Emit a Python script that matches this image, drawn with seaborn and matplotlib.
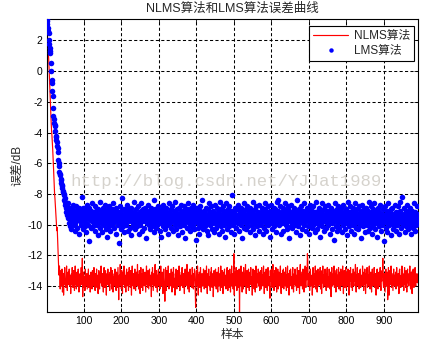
import numpy as np
import pandas as pd
import matplotlib
matplotlib.use("Agg")
import matplotlib.pyplot as plt
import seaborn as sns

# Error curves (dB) per sample for the two adaptive filters
nlms_err_db = [
    3.4, 3.0, 2.4, 2.0, 1.5, 1.0, 0.4, -0.2, -0.8, -1.5, -2.2, -2.9, -3.4, -3.9, -4.2, -4.6, -5.1, -5.6, -6.2, -6.8, -7.4, -8.0, -8.3, -8.7, -9.1, -9.6, -9.9, -10.4, -10.2, -10.9,
    -11.6, -12.3, -12.9, -13.3, -12.7, -13.6, -14.2, -13.4, -13.0, -14.0, -13.5, -12.9, -14.4, -13.7, -13.2, -14.6, -13.8, -13.3, -12.8, -13.9, -13.6, -14.1, -13.4, -12.7, -13.8, -14.3, -13.5, -13.1, -13.9, -13.6,
    -12.9, -14.0, -13.7, -13.3, -14.5, -13.6, -13.2, -13.9, -12.8, -13.7, -14.1, -13.4, -13.0, -13.8, -14.3, -13.5, -12.7, -13.9, -13.6, -14.2, -13.3, -13.1, -14.0, -13.7, -12.9, -13.6, -14.4, -13.4, -13.8, -13.2,
    -14.0, -13.5, -12.8, -13.9, -13.3, -12.2, -14.7, -13.6, -13.1, -14.1, -13.8, -13.4, -14.3, -12.9, -13.7, -14.0, -13.5, -13.2, -14.2, -13.8, -13.4, -12.9, -14.1, -13.6, -13.9, -13.3, -14.4, -13.7, -13.1, -13.8,
    -13.5, -14.2, -13.0, -13.7, -14.0, -13.4, -12.8, -13.9, -13.6, -14.3, -13.2, -13.8, -13.5, -12.9, -14.1, -13.7, -13.3, -14.5, -13.6, -13.0, -13.9, -14.2, -13.4, -13.1, -13.8, -12.7, -13.6, -14.0, -13.5, -13.2,
    -13.9, -14.4, -13.3, -12.8, -13.7, -14.1, -13.5, -13.0, -13.8, -14.6, -13.4, -13.2, -13.9, -12.9, -13.6, -14.0, -13.3, -13.7, -14.3, -13.1, -13.8, -12.8, -13.5, -14.2, -13.6, -13.0, -13.9, -14.4, -13.4, -13.7,
    -13.2, -14.0, -12.9, -13.8, -13.5, -14.3, -13.1, -13.7, -14.1, -13.4, -12.8, -13.9, -14.9, -13.6, -13.3, -14.0, -12.6, -13.8, -13.5, -14.2, -13.0, -13.7, -14.5, -13.4, -13.1, -13.9, -12.7, -13.6, -14.1, -13.3,
    -13.8, -14.4, -13.2, -12.9, -13.7, -14.0, -13.5, -13.1, -14.3, -13.6, -12.8, -13.9, -13.4, -14.1, -13.0, -13.7, -14.6, -13.3, -12.7, -13.8, -14.0, -13.5, -13.2, -14.2, -13.6, -12.9, -13.9, -14.3, -13.4, -13.1,
    -13.7, -14.0, -12.6, -13.8, -13.3, -14.2, -13.5, -13.0, -13.9, -14.5, -13.4, -12.8, -13.6, -14.1, -13.2, -13.7, -14.3, -12.9, -13.5, -13.9, -14.0, -13.3, -13.1, -13.8, -14.4, -13.6, -12.7, -13.9, -13.4, -14.1,
    -13.0, -13.7, -14.2, -13.5, -12.9, -13.8, -14.0, -13.3, -13.6, -14.7, -13.1, -13.9, -12.8, -13.5, -14.3, -13.7, -13.2, -14.0, -13.4, -12.6, -13.8, -14.1, -13.6, -13.0, -13.9, -14.4, -13.3, -13.7, -12.9, -14.0,
    -13.5, -13.2, -14.2, -13.8, -12.7, -13.6, -14.0, -13.4, -13.1, -13.9, -14.5, -13.5, -12.9, -13.7, -14.1, -15.0, -13.8, -12.8, -13.6, -14.3, -13.0, -13.9, -13.4, -14.0, -12.7, -13.7, -14.2, -13.5, -13.2, -13.8,
    -14.0, -13.3, -12.9, -13.7, -14.4, -13.6, -13.1, -13.9, -12.8, -14.1, -13.5, -13.8, -14.6, -13.2, -13.6, -12.9, -13.9, -14.2, -13.4, -13.0, -13.7, -14.0, -13.5, -12.7, -13.8, -14.3, -13.3, -13.6, -14.0, -13.1,
    -13.7, -12.8, -13.9, -14.1, -13.4, -13.2, -13.8, -14.5, -13.5, -12.9, -13.6, -14.0, -13.3, -13.9, -12.6, -13.7, -14.2, -13.5, -13.1, -13.8, -14.4, -13.4, -12.9, -13.6, -14.0, -13.3, -13.7, -14.1, -12.8, -13.5,
    -13.9, -14.2, -13.2, -13.6, -12.9, -13.8, -14.3, -15.4, -13.4, -13.0, -13.7, -14.0, -12.7, -13.5, -14.6, -13.3, -13.9, -13.1, -14.1, -13.6, -12.8, -13.8, -14.4, -13.5, -13.2, -13.9, -14.0, -13.4, -12.9, -13.7,
    -14.2, -13.5, -13.0, -13.8, -14.1, -13.3, -12.7, -13.7, -14.5, -13.6, -13.2, -13.9, -12.9, -14.0, -13.4, -13.7, -14.3, -13.1, -13.6, -12.8, -13.9, -14.1, -13.5, -13.2, -14.7, -13.8, -13.0, -13.6, -14.0, -13.4,
    -12.9, -13.8, -14.2, -13.5, -13.1, -13.9, -14.4, -13.3, -12.8, -13.7, -14.0, -13.6, -13.2, -14.3, -12.7, -13.8, -13.5, -14.1, -13.0, -13.9, -14.5, -13.4, -13.1, -13.7, -12.9, -14.0, -13.6, -13.3, -14.2, -13.8,
    -13.2, -12.8, -13.9, -14.3, -13.5, -13.0, -13.8, -14.1, -12.9, -13.6, -14.4, -13.3, -13.7, -12.7, -14.0, -13.5, -13.2, -14.2, -13.6, -11.9, -14.6, -13.4, -13.8, -13.1, -14.0, -12.8, -13.7, -14.3, -13.5, -13.0,
    -13.9, -14.1, -13.3, -12.9, -15.7, -13.6, -13.2, -14.0, -12.7, -13.8, -13.5, -14.4, -13.1, -13.7, -14.2, -12.8, -13.4, -13.9, -14.0, -13.3, -12.6, -13.8, -14.5, -13.5, -13.0, -13.7, -14.1, -13.2, -12.9, -13.6,
    -14.3, -13.5, -13.1, -13.9, -12.8, -13.7, -14.0, -13.4, -14.6, -13.2, -12.9, -13.8, -13.6, -14.2, -13.0, -13.5, -14.4, -13.3, -12.7, -13.9, -14.1, -13.6, -13.2, -13.8, -12.9, -14.0, -13.5, -13.1, -14.3, -13.7,
    -13.0, -13.8, -14.2, -12.8, -13.6, -13.3, -14.0, -13.9, -12.7, -13.5, -14.5, -13.4, -13.1, -13.7, -14.1, -12.9, -13.8, -13.6, -14.3, -13.2, -12.8, -13.9, -14.0, -13.4, -13.6, -14.8, -13.0, -13.7, -13.3, -12.9,
    -13.8, -14.1, -13.5, -12.6, -13.9, -13.2, -14.3, -13.6, -13.0, -13.8, -14.0, -12.8, -13.5, -14.4, -13.3, -13.7, -12.9, -14.2, -13.6, -13.1, -13.9, -14.0, -13.4, -12.7, -13.8, -14.5, -13.2, -13.6, -14.1, -13.0,
    -13.7, -12.9, -14.2, -13.5, -13.1, -13.9, -14.0, -12.8, -13.6, -14.3, -13.3, -13.8, -12.7, -14.1, -13.5, -13.2, -14.6, -13.7, -13.0, -13.9, -12.9, -14.0, -13.4, -13.6, -14.2, -13.1, -12.8, -13.8, -14.4, -13.5,
    -13.2, -13.9, -12.9, -14.0, -13.6, -13.3, -14.3, -13.7, -12.8, -13.5, -14.1, -13.4, -13.0, -13.8, -14.5, -13.2, -12.6, -13.9, -14.0, -13.6, -13.1, -13.7, -14.2, -12.9, -13.5, -13.8, -14.4, -13.3, -13.0, -12.7,
    -13.9, -14.1, -13.4, -12.8, -13.6, -11.9, -12.4, -14.0, -13.5, -13.2, -13.8, -14.3, -13.1, -12.9, -13.7, -14.0, -13.5, -13.3, -14.6, -13.8, -12.8, -13.6, -14.1, -13.2, -13.9, -13.5, -12.7, -14.2, -13.6, -13.0,
    -13.8, -14.4, -13.3, -12.9, -13.7, -14.0, -13.5, -13.1, -13.9, -12.8, -14.2, -13.6, -13.4, -14.5, -13.0, -13.8, -12.7, -13.5, -14.1, -13.3, -13.9, -14.0, -12.9, -13.6, -13.2, -14.3, -13.7, -13.0, -12.8, -13.9,
    -14.1, -13.4, -13.7, -12.9, -13.5, -14.2, -13.1, -13.8, -14.7, -13.3, -12.8, -13.6, -14.0, -13.5, -13.2, -13.9, -12.7, -14.1, -13.6, -13.0, -13.8, -14.4, -13.4, -12.9, -13.7, -14.0, -13.3, -13.5, -12.8, -14.2,
    -13.6, -13.1, -13.9, -14.3, -12.9, -13.7, -13.4, -14.0, -13.2, -12.7, -13.8, -14.5, -13.5, -13.0, -13.9, -14.1, -13.3, -12.8, -13.6, -14.2, -13.7, -13.1, -14.0, -12.9, -13.5, -13.8, -14.6, -13.4, -13.0, -13.7,
    -12.8, -13.9, -14.1, -13.5, -13.2, -14.3, -13.6, -12.9, -13.8, -14.0, -13.4, -13.1, -13.7, -12.6, -13.9, -14.4, -13.3, -13.6, -12.8, -14.0, -13.5, -13.2, -13.9, -14.2, -13.0, -13.7, -12.9, -14.1, -13.5, -13.3,
    -13.8, -14.0, -12.7, -13.6, -13.4, -14.3, -13.1, -13.9, -12.9, -13.5, -14.5, -13.7, -13.2, -13.8, -12.8, -14.1, -13.6, -13.3, -14.0, -13.0, -12.7, -13.9, -14.2, -13.5, -13.1, -13.8, -14.4, -13.4, -12.9, -13.7,
    -14.0, -13.3, -13.6, -12.8, -14.1, -13.5, -13.9, -13.2, -14.6, -13.7, -13.0, -12.9, -13.8, -14.2, -13.4, -13.6, -13.1, -14.0, -13.5, -12.8, -13.9, -14.3, -13.3, -13.7, -13.0, -13.4, -12.2, -13.8, -14.1, -13.5,
    -13.2, -13.9, -14.4, -13.6, -12.9, -13.7, -14.0, -13.3, -13.1, -14.9, -14.2, -12.8, -13.5, -14.6, -13.4, -13.0, -13.9, -13.6, -12.7, -14.1, -13.7, -13.2, -13.8, -14.3, -13.5, -12.9, -13.6, -14.0, -13.3, -13.9,
    -13.1, -14.2, -13.6, -12.8, -13.8, -13.4, -14.0, -13.2, -13.7, -14.5, -13.0, -12.9, -13.9, -13.5, -14.1, -13.3, -13.7, -12.7, -14.0, -13.6, -13.2, -13.8, -14.3, -13.4, -12.8, -13.9, -13.5, -14.1, -13.0, -13.7,
    -14.4, -13.3, -12.9, -13.8, -13.5, -14.0, -13.2, -13.6, -12.7, -13.9, -14.2, -13.4, -13.1, -13.7, -14.5, -13.0, -13.8, -12.9, -13.6, -14.1, -13.3, -13.5, -12.8, -13.9, -14.0, -13.4, -13.7, -13.2, -13.8, -13.5,
]

lms_err_db = [
    3.4, 3.3, 3.1, 2.8, 2.6, 2.5, 2.0, 1.8, 1.5, 1.3, 1.2, 0.5, 0.0, -0.6, -0.8, -1.3, -1.6, -2.4, -2.9, -3.1, -3.4, -3.6, -3.5, -3.9, -4.2, -4.3, -4.5, -4.6, -4.9, -5.0,
    -5.3, -5.8, -6.0, -6.2, -6.6, -6.8, -6.7, -7.0, -7.1, -7.3, -7.4, -7.6, -7.5, -7.9, -7.8, -8.1, -8.0, -8.4, -8.3, -8.7, -8.5, -8.9, -9.2, -8.8, -9.4, -9.1, -9.6, -8.6, -9.3, -9.9,
    -9.2, -10.1, -9.5, -8.9, -9.7, -9.4, -10.3, -9.0, -9.6, -9.8, -8.7, -9.3, -10.0, -9.5, -9.1, -9.9, -10.4, -9.2, -8.8, -9.6, -9.4, -10.2, -9.7, -9.0, -9.5, -10.6, -9.3, -8.9, -9.8, -9.6,
    -9.1, -10.0, -9.4, -8.2, -9.7, -9.5, -10.3, -9.2, -8.9, -9.8, -9.6, -10.1, -9.3, -9.0, -9.9, -10.5, -9.4, -8.7, -9.6, -9.2, -10.0, -9.5, -11.1, -9.3, -8.9, -9.7, -9.4, -10.2, -9.1, -9.6,
    -9.8, -9.3, -8.6, -9.5, -10.1, -9.7, -9.2, -9.9, -10.4, -9.4, -8.8, -9.6, -9.1, -10.0, -9.5, -9.3, -10.7, -9.8, -9.0, -9.4, -9.7, -8.5, -9.6, -10.2, -9.3, -9.9, -9.1, -10.5, -9.5, -8.9,
    -9.7, -9.4, -10.0, -9.2, -9.8, -8.7, -9.5, -10.3, -9.6, -9.1, -9.9, -10.8, -9.4, -9.0, -9.7, -9.3, -10.1, -8.8, -9.6, -9.5, -10.4, -9.2, -9.8, -9.0, -9.6, -10.0, -9.3, -8.6, -9.9, -9.5,
    -10.2, -9.4, -9.1, -9.8, -10.6, -9.5, -8.9, -9.7, -9.3, -10.0, -9.6, -9.2, -11.2, -9.8, -9.4, -8.8, -9.9, -10.3, -9.5, -9.1, -9.7, -8.3, -9.6, -10.1, -9.4, -9.8, -9.0, -10.5, -9.3, -9.6,
    -9.9, -9.2, -10.0, -8.7, -9.5, -9.7, -10.4, -9.3, -9.0, -9.8, -9.6, -10.2, -9.1, -9.4, -10.7, -9.5, -8.9, -9.8, -9.6, -9.3, -10.0, -9.7, -9.2, -8.5, -9.9, -9.4, -10.3, -9.6, -9.0, -9.8,
    -9.5, -10.1, -9.3, -8.8, -9.7, -9.4, -10.6, -9.6, -9.2, -9.9, -10.0, -9.1, -8.6, -9.8, -9.5, -10.4, -9.3, -9.7, -9.0, -9.6, -10.2, -9.4, -8.9, -9.8, -9.5, -10.9, -9.2, -9.6, -9.9, -9.3,
    -8.7, -9.7, -10.0, -9.4, -9.1, -9.8, -10.3, -9.5, -9.6, -8.9, -9.3, -10.1, -9.7, -9.2, -9.9, -10.5, -9.4, -8.4, -9.6, -9.8, -9.0, -10.2, -9.5, -9.3, -9.7, -10.0, -9.1, -9.6, -8.8, -9.9,
    -9.4, -10.4, -9.6, -9.2, -9.8, -9.5, -10.8, -9.0, -9.7, -9.3, -10.1, -8.7, -9.6, -9.9, -9.4, -10.3, -9.1, -9.8, -9.5, -8.9, -9.7, -10.0, -9.3, -9.6, -10.6, -9.2, -9.8, -8.6, -9.5, -9.9,
    -9.3, -10.2, -9.0, -9.7, -9.4, -8.8, -9.6, -10.4, -9.5, -9.1, -9.8, -10.0, -9.2, -8.5, -9.7, -9.4, -10.3, -9.6, -9.0, -9.9, -9.3, -10.7, -9.5, -8.9, -9.8, -9.6, -10.1, -9.2, -9.4, -8.7,
    -9.9, -9.5, -10.5, -9.3, -9.1, -9.7, -10.0, -8.8, -9.6, -9.4, -10.9, -9.2, -9.8, -9.0, -9.5, -10.2, -9.7, -8.6, -9.3, -9.9, -9.6, -10.4, -9.1, -9.5, -8.9, -9.8, -10.1, -9.4, -9.7, -9.2,
    -10.0, -8.7, -9.6, -9.3, -10.3, -9.8, -9.0, -9.5, -11.0, -9.4, -9.7, -8.9, -9.9, -10.2, -9.2, -9.6, -9.4, -10.6, -9.1, -8.8, -9.8, -9.5, -10.0, -9.3, -9.7, -8.4, -9.6, -10.3, -9.4, -9.9,
    -9.1, -9.7, -10.1, -9.5, -8.9, -9.3, -10.4, -9.8, -9.6, -9.0, -9.9, -10.7, -9.4, -8.6, -9.7, -9.2, -10.0, -9.5, -9.8, -8.8, -9.6, -10.3, -9.3, -9.1, -9.9, -10.5, -9.4, -9.7, -8.7, -9.5,
    -10.2, -9.6, -9.3, -9.8, -8.9, -10.0, -9.5, -9.2, -10.6, -9.7, -9.4, -8.5, -9.9, -9.6, -10.1, -9.0, -9.8, -9.3, -10.4, -9.5, -8.8, -9.7, -9.1, -10.0, -9.6, -9.4, -10.8, -9.2, -9.8, -8.6,
    -9.5, -10.3, -9.7, -9.0, -9.9, -9.4, -10.1, -8.8, -9.6, -9.3, -10.5, -9.8, -9.1, -9.5, -8.1, -9.7, -10.0, -9.4, -9.2, -9.9, -10.6, -9.6, -8.9, -9.3, -9.8, -10.2, -9.5, -9.0, -9.7, -9.4,
    -8.7, -9.9, -10.4, -9.5, -9.2, -9.8, -9.6, -10.0, -8.9, -9.4, -9.7, -10.9, -9.3, -9.1, -9.8, -9.5, -8.6, -10.2, -9.6, -9.4, -9.9, -9.0, -10.3, -9.7, -9.3, -8.8, -9.6, -10.1, -9.5, -9.8,
    -9.2, -10.5, -9.4, -8.9, -9.7, -9.6, -10.0, -9.1, -9.8, -8.5, -9.5, -10.3, -9.3, -9.9, -9.6, -10.7, -9.0, -9.4, -9.7, -8.8, -9.5, -10.1, -9.8, -9.2, -9.6, -10.4, -9.3, -8.7, -9.9, -9.5,
    -9.7, -10.0, -9.4, -9.1, -8.9, -9.8, -10.6, -9.5, -9.3, -9.6, -10.2, -8.6, -9.7, -9.0, -9.9, -10.4, -9.4, -9.2, -9.8, -9.5, -10.0, -8.8, -9.6, -9.3, -10.8, -9.7, -9.1, -9.4, -9.9, -8.7,
    -9.6, -10.3, -9.5, -9.2, -9.8, -10.1, -8.9, -9.4, -9.7, -9.0, -10.5, -9.6, -9.3, -8.5, -9.9, -9.5, -8.4, -9.1, -9.8, -9.4, -10.0, -9.7, -8.8, -9.6, -9.3, -10.6, -9.2, -9.9, -9.5, -8.9,
    -10.4, -9.4, -9.7, -9.1, -9.8, -8.6, -9.5, -10.0, -9.3, -9.9, -10.3, -9.6, -9.0, -8.8, -9.7, -9.4, -10.9, -9.2, -9.8, -9.5, -10.1, -9.3, -8.7, -9.6, -9.9, -10.2, -9.1, -9.7, -9.4, -9.6,
    -8.9, -10.0, -9.5, -9.8, -9.2, -10.5, -9.6, -9.3, -8.4, -9.7, -9.4, -10.1, -9.9, -9.0, -9.5, -10.7, -9.8, -9.2, -8.8, -9.6, -10.3, -9.4, -9.7, -9.1, -9.9, -10.0, -9.5, -8.6, -9.8, -9.3,
    -9.6, -10.4, -9.2, -9.7, -8.9, -9.5, -10.1, -9.8, -9.4, -9.0, -10.6, -9.6, -9.3, -8.7, -9.9, -9.5, -10.2, -9.1, -9.7, -9.4, -10.0, -8.8, -9.6, -9.8, -9.3, -10.5, -9.2, -9.5, -8.5, -9.9,
    -9.4, -10.3, -9.7, -9.1, -9.6, -10.0, -8.9, -9.8, -9.3, -10.8, -9.5, -9.2, -9.9, -8.6, -9.7, -10.1, -9.4, -9.6, -9.0, -10.4, -9.8, -9.3, -8.8, -9.5, -9.7, -10.2, -9.1, -9.9, -9.4, -9.6,
    -8.7, -10.0, -9.5, -9.8, -9.2, -10.6, -9.4, -9.0, -9.7, -8.9, -9.9, -10.3, -9.6, -9.3, -9.5, -11.0, -9.1, -9.8, -8.6, -9.4, -10.1, -9.7, -9.2, -9.6, -10.4, -9.0, -9.9, -8.8, -9.5, -9.7,
    -10.2, -9.3, -9.6, -9.1, -8.9, -9.8, -10.5, -9.4, -9.7, -9.5, -10.0, -8.7, -9.6, -9.2, -9.9, -10.3, -9.5, -9.0, -9.8, -9.3, -10.7, -9.6, -8.5, -9.4, -9.7, -10.1, -9.2, -9.9, -9.5, -8.8,
    -9.6, -10.4, -9.3, -9.8, -9.1, -9.7, -10.0, -8.9, -9.5, -9.4, -10.6, -9.9, -9.2, -8.6, -9.6, -10.2, -9.8, -9.0, -9.5, -9.7, -10.3, -9.3, -8.8, -9.9, -9.6, -10.0, -9.4, -9.1, -9.7, -10.9,
    -9.5, -8.7, -9.8, -9.3, -10.1, -9.6, -9.0, -9.9, -10.5, -9.4, -9.2, -8.9, -9.7, -10.0, -9.5, -9.8, -10.4, -9.1, -8.5, -9.6, -9.3, -10.2, -9.7, -9.4, -8.8, -9.9, -10.6, -9.5, -9.2, -9.8,
    -9.0, -10.0, -9.6, -8.6, -9.4, -9.7, -10.3, -9.3, -9.9, -9.1, -10.8, -9.5, -8.9, -9.8, -9.6, -10.1, -9.2, -9.7, -9.4, -8.7, -9.9, -10.4, -9.5, -9.3, -9.8, -10.0, -9.6, -9.0, -9.7, -11.1,
    -9.4, -9.8, -8.8, -9.6, -10.2, -9.3, -9.9, -9.1, -10.5, -9.7, -9.5, -8.6, -9.8, -10.0, -9.4, -9.2, -9.7, -10.7, -9.6, -9.0, -9.9, -8.9, -9.5, -10.3, -9.8, -9.3, -9.6, -10.1, -9.4, -8.7,
    -9.7, -10.4, -9.2, -9.9, -9.5, -10.0, -8.8, -9.6, -9.3, -10.6, -9.8, -9.1, -9.7, -8.5, -9.4, -10.2, -9.9, -9.6, -8.2, -10.0, -9.5, -9.8, -8.9, -9.3, -10.5, -9.7, -9.4, -9.1, -9.8, -10.1,
    -9.6, -8.7, -9.5, -9.9, -10.3, -9.2, -9.7, -9.4, -10.0, -8.9, -9.6, -9.8, -10.6, -9.3, -9.1, -9.7, -10.2, -9.5, -8.6, -9.9, -9.4, -10.4, -9.7, -9.2, -9.6, -10.0, -9.3, -8.8, -9.8, -9.5,
]

series_labels = ["NLMS算法", "LMS算法"]
x_ticks = [100, 200, 300, 400, 500, 600, 700, 800, 900]
y_ticks = [-14, -12, -10, -8, -6, -4, -2, 0, 2]

nlms_df = pd.DataFrame({"样本": np.arange(1, len(nlms_err_db) + 1), "误差": nlms_err_db})
lms_df = pd.DataFrame({"样本": np.arange(1, len(lms_err_db) + 1), "误差": lms_err_db})

sns.set_style("ticks")
plt.rcParams["font.family"] = ["Liberation Sans", "Noto Sans CJK SC", "DejaVu Sans"]
plt.rcParams["axes.unicode_minus"] = False

fig = plt.figure(figsize=(4.3, 3.44), dpi=100)
fig.patch.set_facecolor("white")
ax = fig.add_axes([46.7 / 430, 1 - 312 / 344, 371 / 430, 293 / 344])

sns.lineplot(data=nlms_df, x="样本", y="误差", ax=ax, color="#ff0000",
             linewidth=0.85, estimator=None, sort=False, label=series_labels[0])
sns.scatterplot(data=lms_df, x="样本", y="误差", ax=ax, color="#0000ff",
                s=16, marker="o", linewidth=0, label=series_labels[1], zorder=3)

n_max = max(len(nlms_err_db), len(lms_err_db))
all_vals = np.concatenate([nlms_err_db, lms_err_db])
ax.set_xlim(1, n_max)
ax.set_ylim(all_vals.min(), all_vals.max())
ax.set_xticks(x_ticks)
ax.set_yticks(y_ticks)

ax.set_axisbelow(True)
ax.grid(True, color="black", linestyle=(0, (3, 2.2)), linewidth=0.75)
for sp in ax.spines.values():
    sp.set_visible(True)
    sp.set_color("black")
    sp.set_linewidth(0.8)
ax.tick_params(direction="in", length=2.8, width=0.6, top=True, right=True,
               labelsize=7.5, pad=3, colors="black")

ax.set_title("NLMS算法和LMS算法误差曲线", fontsize=9, pad=5)
ax.set_xlabel("样本", fontsize=8.5, labelpad=2)
ax.set_ylabel("误差/dB", fontsize=8.5, labelpad=3)

leg = ax.legend(loc="upper right", bbox_to_anchor=(1 - 3.7 / 371, 1 - 7 / 293),
                borderaxespad=0, fontsize=8.5, handlelength=3.0, handletextpad=0.45,
                labelspacing=0.2, borderpad=0.35, fancybox=False, framealpha=1,
                edgecolor="black", scatterpoints=1, markerscale=0.8)
leg.get_frame().set_linewidth(0.8)

fig.text(0.525, 1 - 181 / 344, "http://blog.csdn.net/YJJat1989",
         family="Liberation Mono", fontsize=12.5, color="#c8c4bc", alpha=0.75,
         ha="center", va="center", zorder=10)

fig.savefig("out.png", dpi=100, facecolor="white")
